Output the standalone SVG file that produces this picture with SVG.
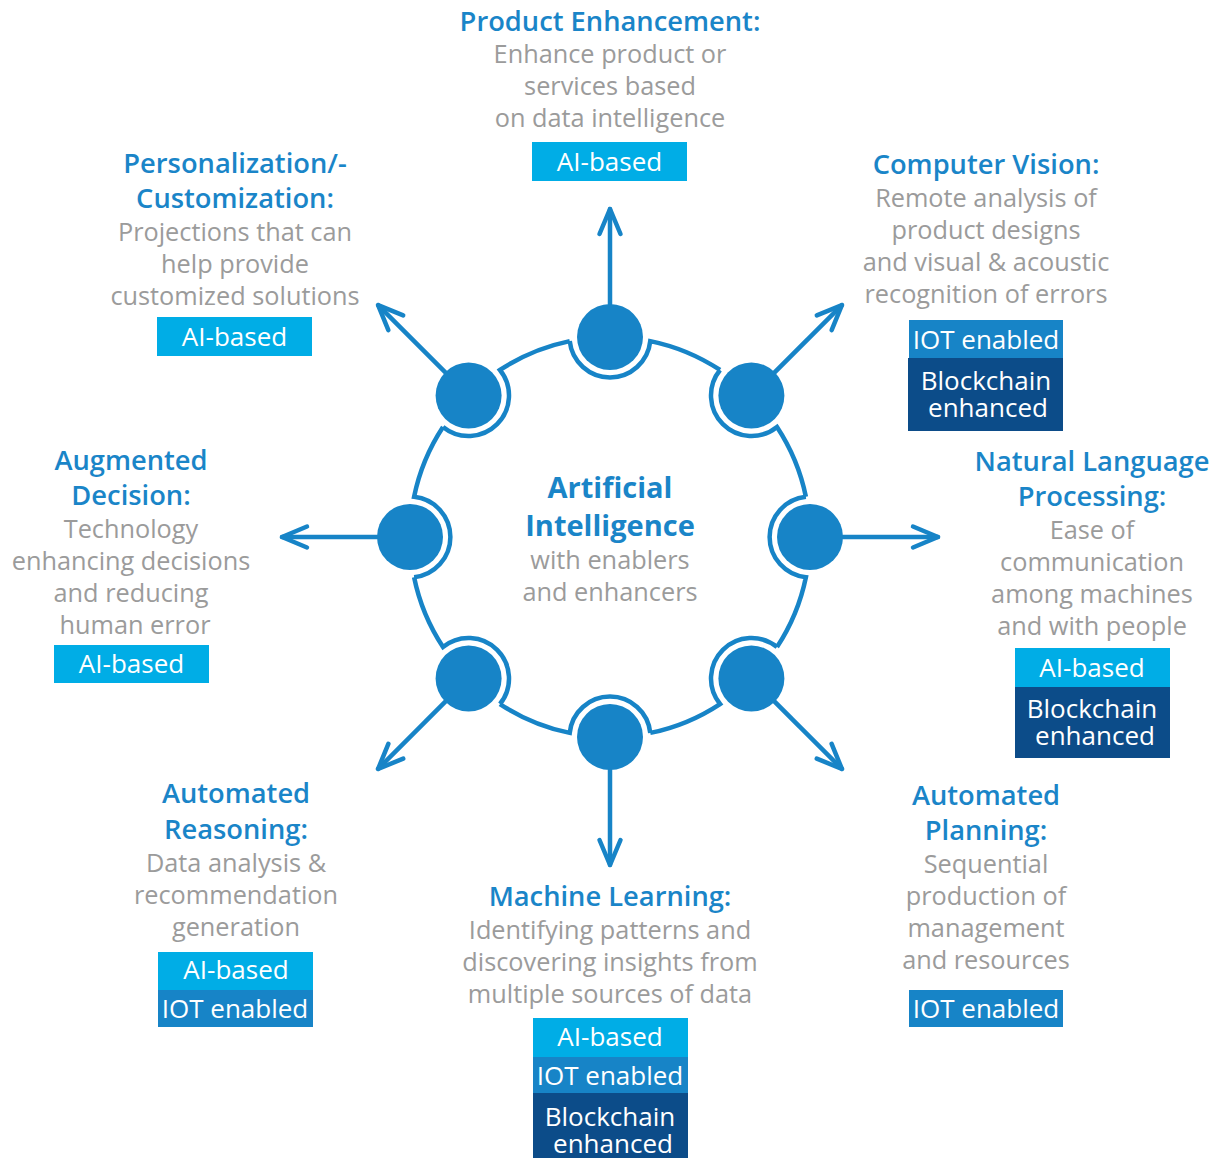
<svg xmlns="http://www.w3.org/2000/svg" xmlns:xlink="http://www.w3.org/1999/xlink" width="1218" height="1160" viewBox="0 0 1218 1160">
<style>
.h{font-family:"Open Sans","Liberation Sans",sans-serif;font-size:27.3px;font-weight:600;fill:#1a85c8;text-anchor:middle}
.b{font-family:"Open Sans","Liberation Sans",sans-serif;font-size:25.3px;font-weight:400;fill:#9b9b9b;text-anchor:middle}
.t{font-family:"Open Sans","Liberation Sans",sans-serif;font-size:26px;font-weight:400;fill:#ffffff;text-anchor:middle}
.ct{font-family:"Open Sans","Liberation Sans",sans-serif;font-size:29px;font-weight:700;fill:#1a85c8;text-anchor:middle}
.ai{fill:#00ade6}
.iot{fill:#1784c7}
.bc{fill:#0c4c89}
.node{fill:#1784c7}
.ring{fill:none;stroke:#1784c7;stroke-width:4.5;stroke-linejoin:miter}
.conn{fill:none;stroke:#1784c7;stroke-width:4.5;stroke-linecap:round}
</style>
<defs>
<marker id="chev" markerUnits="userSpaceOnUse" orient="auto" markerWidth="40" markerHeight="40" viewBox="-32 -16 40 32" refX="0" refY="0" overflow="visible">
<path d="M-25,-10.5 L0,0 L-25,10.5" fill="none" stroke="#1784c7" stroke-width="4.5" stroke-linecap="round" stroke-linejoin="round"/>
</marker>
<path id="seg" d="M569.72,341.10 A40.5,40.5 0 0 0 650.28,341.10 A200,200 0 0 1 720.04,369.99"/>
</defs>
<rect width="1218" height="1160" fill="#ffffff"/>

<g id="ring" class="ring">
<use xlink:href="#seg" href="#seg"/>
<use xlink:href="#seg" href="#seg" transform="rotate(45 610 537)"/>
<use xlink:href="#seg" href="#seg" transform="rotate(90 610 537)"/>
<use xlink:href="#seg" href="#seg" transform="rotate(135 610 537)"/>
<use xlink:href="#seg" href="#seg" transform="rotate(180 610 537)"/>
<use xlink:href="#seg" href="#seg" transform="rotate(225 610 537)"/>
<use xlink:href="#seg" href="#seg" transform="rotate(270 610 537)"/>
<use xlink:href="#seg" href="#seg" transform="rotate(315 610 537)"/>
</g>

<g id="connectors" class="conn">
<line x1="610" y1="304" x2="610" y2="209" marker-end="url(#chev)"/>
<line x1="751.4" y1="395.6" x2="841.9" y2="305.1" marker-end="url(#chev)"/>
<line x1="843" y1="537" x2="938" y2="537" marker-end="url(#chev)"/>
<line x1="751.4" y1="678.4" x2="841.9" y2="768.9" marker-end="url(#chev)"/>
<line x1="610" y1="770" x2="610" y2="865" marker-end="url(#chev)"/>
<line x1="468.6" y1="678.4" x2="378.1" y2="768.9" marker-end="url(#chev)"/>
<line x1="377" y1="537" x2="282" y2="537" marker-end="url(#chev)"/>
<line x1="468.6" y1="395.6" x2="378.1" y2="305.1" marker-end="url(#chev)"/>
</g>

<g id="center">
<text class="ct" x="610" y="498">Artificial</text>
<text class="ct" x="610" y="536">Intelligence</text>
<text class="b" x="610" y="569">with enablers</text>
<text class="b" x="610" y="601">and enhancers</text>
</g>

<g id="product-enhancement">
<circle class="node" cx="610" cy="337" r="33"/>
<text class="h" x="610" y="31">Product Enhancement:</text>
<text class="b" x="610" y="63">Enhance product or</text>
<text class="b" x="610" y="95">services based</text>
<text class="b" x="610" y="127">on data intelligence</text>
<rect class="ai" x="532" y="142" width="155" height="39"/>
<text class="t" x="609.5" y="171">AI-based</text>
</g>

<g id="computer-vision">
<circle class="node" cx="751.4" cy="395.6" r="33"/>
<text class="h" x="986" y="174">Computer Vision:</text>
<text class="b" x="986" y="207">Remote analysis of</text>
<text class="b" x="986" y="239">product designs</text>
<text class="b" x="986" y="271">and visual &amp; acoustic</text>
<text class="b" x="986" y="303">recognition of errors</text>
<rect class="iot" x="909" y="320" width="154" height="38"/>
<text class="t" x="986" y="349">IOT enabled</text>
<rect class="bc" x="908" y="358" width="155" height="73"/>
<text class="t"><tspan x="986" y="390">Blockchain</tspan><tspan x="988" y="417">enhanced</tspan></text>
</g>

<g id="natural-language-processing">
<circle class="node" cx="810" cy="537" r="33"/>
<text class="h" x="1092" y="471">Natural Language</text>
<text class="h" x="1092" y="506">Processing:</text>
<text class="b" x="1092" y="539">Ease of</text>
<text class="b" x="1092" y="571">communication</text>
<text class="b" x="1092" y="603">among machines</text>
<text class="b" x="1092" y="635">and with people</text>
<rect class="ai" x="1015" y="648" width="155" height="39"/>
<text class="t" x="1092" y="677">AI-based</text>
<rect class="bc" x="1015" y="687" width="155" height="71"/>
<text class="t"><tspan x="1092" y="718">Blockchain</tspan><tspan x="1095" y="745">enhanced</tspan></text>
</g>

<g id="automated-planning">
<circle class="node" cx="751.4" cy="678.4" r="33"/>
<text class="h" x="986" y="805">Automated</text>
<text class="h" x="986" y="840">Planning:</text>
<text class="b" x="986" y="873">Sequential</text>
<text class="b" x="986" y="905">production of</text>
<text class="b" x="986" y="937">management</text>
<text class="b" x="986" y="969">and resources</text>
<rect class="iot" x="909" y="990" width="154" height="37"/>
<text class="t" x="986" y="1018">IOT enabled</text>
</g>

<g id="machine-learning">
<circle class="node" cx="610" cy="737" r="33"/>
<text class="h" x="610" y="906">Machine Learning:</text>
<text class="b" x="610" y="939">Identifying patterns and</text>
<text class="b" x="610" y="971">discovering insights from</text>
<text class="b" x="610" y="1003">multiple sources of data</text>
<rect class="ai" x="533" y="1018" width="155" height="39"/>
<text class="t" x="610" y="1046">AI-based</text>
<rect class="iot" x="533" y="1057" width="155" height="36"/>
<text class="t" x="610" y="1085">IOT enabled</text>
<rect class="bc" x="533" y="1093" width="155" height="65"/>
<text class="t"><tspan x="610" y="1126">Blockchain</tspan><tspan x="613" y="1153">enhanced</tspan></text>
</g>

<g id="automated-reasoning">
<circle class="node" cx="468.6" cy="678.4" r="33"/>
<text class="h" x="236" y="803">Automated</text>
<text class="h" x="236" y="839">Reasoning:</text>
<text class="b" x="236" y="872">Data analysis &amp;</text>
<text class="b" x="236" y="904">recommendation</text>
<text class="b" x="236" y="936">generation</text>
<rect class="ai" x="158" y="952" width="155" height="38"/>
<text class="t" x="236" y="979">AI-based</text>
<rect class="iot" x="158" y="990" width="155" height="37"/>
<text class="t" x="235" y="1018">IOT enabled</text>
</g>

<g id="augmented-decision">
<circle class="node" cx="410" cy="537" r="33"/>
<text class="h" x="131" y="470">Augmented</text>
<text class="h" x="131" y="505">Decision:</text>
<text class="b" x="131" y="538">Technology</text>
<text class="b" x="131" y="570">enhancing decisions</text>
<text class="b" x="131" y="602">and reducing</text>
<text class="b" x="135" y="634">human error</text>
<rect class="ai" x="54" y="645" width="155" height="38"/>
<text class="t" x="131.5" y="673">AI-based</text>
</g>

<g id="personalization">
<circle class="node" cx="468.6" cy="395.6" r="33"/>
<text class="h" x="235" y="173">Personalization/-</text>
<text class="h" x="235" y="208">Customization:</text>
<text class="b" x="235" y="241">Projections that can</text>
<text class="b" x="235" y="273">help provide</text>
<text class="b" x="235" y="305">customized solutions</text>
<rect class="ai" x="157" y="317" width="155" height="39"/>
<text class="t" x="234.5" y="346">AI-based</text>
</g>
</svg>
